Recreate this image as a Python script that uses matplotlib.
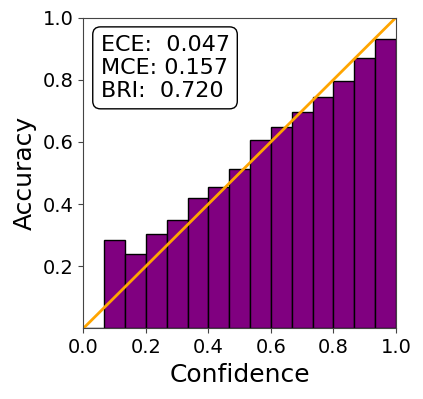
import numpy as np
import matplotlib.pyplot as plt

n_bins = 15
bin_left = np.linspace(0, 1, n_bins + 1)[:-1]
accuracy = [0.0, 0.285, 0.239, 0.304, 0.348, 0.420, 0.455, 0.513,
            0.605, 0.649, 0.697, 0.745, 0.796, 0.871, 0.931]
metrics_text = "ECE:  0.047\nMCE: 0.157\nBRI:  0.720"

fig = plt.figure(figsize=(4.23, 3.99), dpi=100)
ax = fig.add_subplot(111)
fig.subplots_adjust(left=0.197, right=0.936, bottom=0.177, top=0.956)

ax.bar(bin_left, accuracy, width=1.0 / n_bins, align='edge',
       color='purple', edgecolor='black', linewidth=1.0)
ax.plot([0, 1], [0, 1], color='orange', linewidth=2)

ax.set_xlim(0, 1)
ax.set_ylim(0, 1)
ax.set_xticks([0, 0.2, 0.4, 0.6, 0.8, 1.0])
ax.set_yticks([0.2, 0.4, 0.6, 0.8, 1.0])
ax.tick_params(labelsize=14, color='#444444')
for s in ax.spines.values():
    s.set_edgecolor('#444444')
ax.set_xlabel('Confidence', fontsize=18)
ax.set_ylabel('Accuracy', fontsize=18)

ax.text(0.055, 0.945, metrics_text, transform=ax.transAxes, fontsize=16,
        va='top', ha='left',
        bbox=dict(boxstyle='round,pad=0.35', facecolor='white', edgecolor='black'))

fig.savefig('out.png', dpi=100)
